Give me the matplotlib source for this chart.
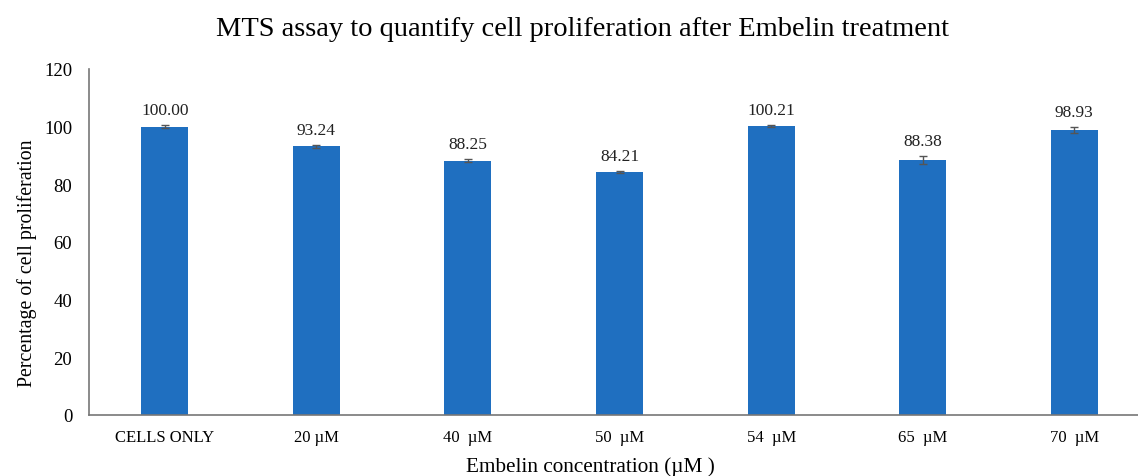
import matplotlib
matplotlib.use("Agg")
import matplotlib.pyplot as plt

categories = ["CELLS ONLY", "20 µM", "40  µM", "50  µM", "54  µM", "65  µM", "70  µM"]
values = [100.00, 93.24, 88.25, 84.21, 100.21, 88.38, 98.93]
errors = [0.5, 0.5, 0.6, 0.4, 0.3, 1.5, 1.0]
labels = ["100.00", "93.24", "88.25", "84.21", "100.21", "88.38", "98.93"]
yticks = [0, 20, 40, 60, 80, 100, 120]

plt.rcParams['font.family'] = ['Liberation Serif', 'DejaVu Serif']

W, H = 1138, 477
fig = plt.figure(figsize=(W/100, H/100), dpi=100)
left, right, bottom, top = 89, 1138, 416, 70
ax = fig.add_axes([left/W, 1-bottom/H, (right-left)/W, (bottom-top)/H])

x = list(range(len(categories)))
ax.bar(x, values, width=0.31, color="#1F6FC0", zorder=2)
ax.errorbar(x, values, yerr=errors, fmt='none', ecolor="#555555", elinewidth=1, capsize=3, zorder=3)
for xi, v, e, lab in zip(x, values, errors, labels):
    ax.text(xi, v + e + 2.5, lab, ha='center', va='bottom', fontsize=12.5, color="#222222")

ax.set_xlim(-0.5, 6.42)
ax.set_ylim(0, 120)
ax.set_yticks(yticks)
ax.set_xticks(x)
ax.set_xticklabels(categories, fontsize=12)
ax.tick_params(axis='y', labelsize=13.5, length=0, pad=12)
ax.tick_params(axis='x', length=0, pad=10)
for s in ['top', 'right']:
    ax.spines[s].set_visible(False)
for s in ['left', 'bottom']:
    ax.spines[s].set_color("#777777")
    ax.spines[s].set_linewidth(1.2)

ax.set_ylabel("Percentage of cell proliferation", fontsize=14.3)
ax.yaxis.set_label_coords((37-left)/(right-left), (bottom-263)/(bottom-top))
ax.set_xlabel("Embelin concentration (µM )", fontsize=15.3)
ax.xaxis.set_label_coords((590-left)/(right-left), -0.12)
fig.text((218+948)/2/W, 1-30/H, "MTS assay to quantify cell proliferation after Embelin treatment",
         ha='center', va='center', fontsize=20.5)

fig.savefig("out.png", dpi=100)
